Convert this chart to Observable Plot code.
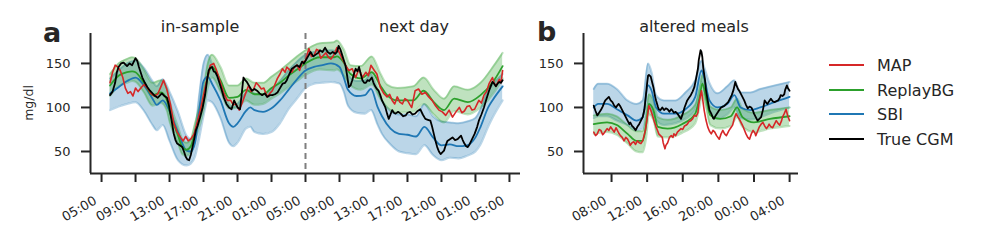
<!DOCTYPE html>
<html><head><meta charset="utf-8">
<script src="https://cdn.jsdelivr.net/npm/d3@7"></script>
<script src="https://cdn.jsdelivr.net/npm/@observablehq/plot@0.6"></script>
<style>
body{margin:0;background:#fff;}
#fig{position:relative;width:984px;height:244px;font-family:"DejaVu Sans",sans-serif;color:#262626;}
#fig svg{position:absolute;top:0;}
.pl text{font-size:13px;}
</style></head><body><div id="fig"></div>
<script>
// ---------- axis ticks ----------
const aTicks = [0,4,8,12,16,20,24,28,32,36,40,44,48];
const aTickLabels = ["05:00","09:00","13:00","17:00","21:00","01:00","05:00","09:00","13:00","17:00","21:00","01:00","05:00"];
const bTicks = [8,12,16,20,24,28];
const bTickLabels = ["08:00","12:00","16:00","20:00","00:00","04:00"];
const yTicks = [50,100,150];
const seriesNames = ["MAP","ReplayBG","SBI","True CGM"];
const seriesColors = ["#d62728","#2ca02c","#1f77b4","#000000"];

// ---------- panel a (hours since 05:00 of day 1) ----------
const sbiA_t  = [1,2,3,4,5,6,6.5,7.2,8,9, 10,10.5,11,11.5,12,12.5,13,14,15,15.5, 16,17,17.5,18,19,20,21,22,23,24, 25,26,27,28,28.5,29,30,31,31.7,32.5, 33,34,35,36,37,38,39,40,41,42, 43,44,44.6,45.5,46,47.2];
const sbiA_mean = [116,123,130,134,125,110,103,108,96,72, 51,50,60,97,130,135,127,108,82,78, 82,96,100,97,95,99,108,120,132,142, 146,148,150,146,134,120,113,114,121,100, 90,76,70,69,67,78,66,57,58,56, 57,66,78,100,108,124];
const sbiA_lo = [97,101,104,106,96,80,74,80,62,40, 34,36,44,65,90,108,106,88,60,56, 60,76,78,72,70,72,82,98,110,122, 127,128,129,127,118,102,94,93,97,80, 70,58,50,48,47,57,46,40,43,42, 45,50,58,78,88,108];
const sbiA_hi = [133,142,150,153,145,130,124,132,118,95, 68,64,74,115,150,160,150,128,104,100, 104,117,120,116,115,120,130,142,152,160, 163,164,165,163,152,138,130,131,138,120, 108,96,92,92,90,104,90,84,83,82, 84,88,98,120,126,138];

const rbgA_t = [1,2,3,3.6,4,5,6,7,7.7,8, 9,9.5,10,10.5,11,12,12.5,13,14,15, 16,17,18,19,20,21,22,23,24,25.7, 27.3,27.7,28.5,29.3,30.5,31.8,32.8,33.6,34.8,36.7, 37.9,39.1,40.3,41.5,43.1,44.6,46.2,47.2];
const rbgA_mean = [125,136,140,141,140,128,114,117,108,96, 68,55,52,56,72,108,135,146,131,111, 112,120,115,115,122,128,136,143,150,157, 157,158,151,138,133,140,125,114,108,108, 119,106,97,110,106,114,131,147];
const rbgA_lo = [113,124,128,130,129,117,102,105,96,84, 59,47,45,48,63,96,122,134,118,99, 100,108,103,104,110,116,123,130,137,143, 142,143,136,125,120,126,110,100,94,95, 104,92,83,96,92,100,117,133];
const rbgA_hi = [138,150,155,157,156,143,128,131,122,108, 78,64,60,64,82,122,150,160,146,125, 125,133,128,128,135,142,150,158,165,173, 174,176,166,148,147,158,139,126,122,124, 134,120,110,124,120,128,148,162];

const mapA_t = [1.0,1.3,1.6,1.9,2.2,2.5,2.8,3.1,3.4,3.7, 4.0,4.3,4.7,5.0,5.4,5.8,6.2,6.6,7.0,7.3, 7.7,8.1,8.5,8.9,9.3,9.6,9.9,10.2,10.5,10.9, 11.2,11.6,12.2,12.8,13.2,13.5,13.8,14.4,14.8,15.2, 15.5,15.8,16.2,16.5,16.8,17.3,17.6,17.9,18.2,18.5, 18.8,19.1,19.5,19.8,20.1,20.4,20.7,21.0,21.3,21.6, 21.8,22.1,22.4,22.7,23.0,23.3,23.6,
 24.0,24.4,24.7,25.0,25.3,25.5,25.8,26.1,26.4,26.7, 27.0,27.3,27.7,28.1,28.4,28.7,29.1,29.5,29.9,30.3, 30.7,31.1,31.4,31.7,32.1,32.4,32.8,33.2,33.6,33.9, 34.2,34.5,34.8,35.1,35.4,35.7,36.0,36.3,36.5,36.9, 37.3,37.7,38.1,38.5,38.9,39.3,39.7,40.1,40.5,40.9, 41.3,41.7,42.1,42.4,42.7,43.0,43.3,43.6,43.9,44.2, 44.4,44.7,45.0,45.3,45.6,46.0,46.2,46.4,46.8,47.0, 47.2];
const mapA_v = [128,140,148,146,142,134,122,116,118,113, 122,118,123,126,122,116,113,115,124,131, 120,104,82,72,66,62,67,62,64,70, 81,96,123,148,150,143,134,116,108,108, 103,104,97,104,112,125,118,121,128,125, 121,122,112,116,119,126,133,138,144,140, 146,143,140,146,148,142,151,
 153,167,158,159,166,165,156,159,162,157, 155,159,168,160,154,148,142,144,134,144, 134,140,136,148,142,138,123,116,112,115, 108,104,112,106,104,110,108,103,100,119, 121,115,117,112,108,102,97,95,91,97, 89,95,100,94,96,101,102,97,98,104, 108,105,114,118,127,134,128,124,132,128, 142];

const cgmA_t = [1.0,1.3,1.6,1.8,2.0,2.3,2.6,3.0,3.3,3.6, 3.8,4.0,4.2,4.4,4.8,5.1,5.4,5.7,6.0,6.3, 6.6,6.9,7.1,7.4,7.7,7.9,8.1,8.3,8.5,8.7, 8.9,9.2,9.5,9.7,9.9,10.1,10.3,10.5,10.7,10.9, 11.1,11.3,11.6,11.9,12.2,12.4,12.6,12.8,13.0,13.2, 13.4,13.6,13.8,14.1,14.4,14.7,15.0,15.3,15.6,15.8, 16.0,16.3,16.5,16.7,16.9,17.1,17.4,17.7,18.0,18.3, 18.6,18.9,19.2,19.5,19.8,20.1,20.4,20.7,21.0,21.3, 21.6,21.8,22.1,22.4,22.7,23.0,23.3,23.6,23.8,24.0,
 24.3,24.6,24.9,25.2,25.5,25.7,26.0,26.3,26.6,26.9, 27.2,27.5,27.7,27.9,28.1,28.3,28.5,28.7,28.9,29.1, 29.3,29.5,29.7,29.9,30.1,30.3,30.5,30.7,30.9,31.1, 31.3,31.5,31.8,32.0,32.2,32.4,32.6,32.8,33.0,33.2, 33.4,33.6,33.8,34.0,34.2,34.4,34.6,34.9,35.2,35.5, 35.8,36.0,36.3,36.6,36.9,37.2,37.5,37.8,38.1,38.4, 38.7,38.9,39.1,39.3,39.5,39.7,39.9,40.1,40.3,40.5, 40.7,41.0,41.3,41.6,41.9,42.1,42.3,42.5,42.7,42.9, 43.1,43.3,43.5,43.7,43.9,44.2,44.4,44.7,45.0,45.3, 45.6,45.8,46.0,46.2,46.4,46.6,46.8,47.0,47.2];
const cgmA_v = [114,118,128,140,146,150,151,147,150,148, 152,156,153,146,134,128,123,119,116,113, 111,114,116,113,111,104,93,82,70,63, 59,57,55,50,44,41,40,46,55,64, 74,79,89,100,115,130,142,145,146,141, 140,136,130,121,111,104,100,98,108,104, 100,98,116,134,131,129,124,119,121,119, 116,114,116,112,114,114,115,117,122,127, 128,131,138,144,146,148,146,152,150,153,
 158,163,158,160,162,165,163,168,163,161, 163,161,163,170,166,160,154,148,136,123, 125,131,138,144,141,146,138,131,128,128, 131,130,134,128,124,121,119,114,108,104, 100,93,87,92,97,94,93,95,93,90, 91,94,95,92,93,96,98,92,87,86, 85,78,70,62,55,50,47,49,51,57, 62,64,66,63,64,66,68,63,59,56, 55,58,62,66,70,78,85,92,100,110, 119,124,129,127,124,127,129,128,131];

// ---------- panel b (hours since 00:00 of the day) ----------
const sbiB_t = [6,6.5,7.5,8.6,9.8,10.8,11.5,12.1,12.5,13.0, 13.9,15.2,16.3,17.4,18.1,18.4,19.0,19.9,21.0,21.8, 22.5,23.6,24.7,26.3,28.0];
const sbiB_mean = [100,104,104,98,91,85,89,125,119,100, 93,93,98,112,142,134,108,100,104,114, 100,97,100,106,112];
const sbiB_lo = [88,90,90,85,80,74,76,104,96,86, 80,82,87,97,129,118,94,87,92,100, 88,86,89,95,100];
const sbiB_hi = [121,127,127,121,108,104,108,150,140,114, 108,108,117,131,153,146,128,116,124,131, 117,117,121,125,129];

const rbgB_t = [6,7.5,8.6,9.8,10.8,11.5,11.9,12.2,12.7,13.2, 14.3,15.9,17.4,17.9,18.2,18.6,19.1,20.2,21.4,22.1, 22.7,24.0,25.8,28.0];
const rbgB_mean = [81,83,80,70,62,62,81,104,97,78, 76,81,93,112,127,112,91,87,90,100, 89,83,87,90];
const rbgB_lo = [70,72,69,59,50,49,66,92,86,67, 66,71,82,101,116,101,80,76,79,89, 78,72,76,79];
const rbgB_hi = [91,93,90,80,73,73,92,115,108,89, 86,91,103,122,137,122,101,97,100,110, 99,94,97,100];

const mapB_t = [6.0,6.2,6.4,6.6,6.8,7.0,7.1,7.3,7.5,7.7, 7.9,8.1,8.3,8.5,8.6,8.8,9.0,9.2,9.4,9.6, 9.8,10.0,10.1,10.3,10.5,10.7,10.9,11.1,11.3,11.5, 11.6,11.8,11.9,12.1,12.2,12.4,12.6,12.8,13.0,13.2, 13.3,13.5,13.7,13.8,14.0,14.1,14.3,14.5,14.7,14.9, 15.0,15.2,15.4,15.6,15.8,16.0,16.2,16.4,16.5,16.7, 16.9,17.1,17.3,17.5,17.7,17.8,18.0,18.1,18.2,18.4, 18.6,18.8,19.0,19.2,19.4,19.6,19.8,20.1,20.3,20.5, 20.7,20.9,21.1,21.2,21.4,21.6,21.8,22.0,22.2,22.4, 22.6,22.7,22.9,23.1,23.3,23.5,23.7,23.9,24.1,24.2, 24.4,24.6,24.8,25.0,25.2,25.4,25.6,25.7,25.9,26.1, 26.3,26.5,26.7,26.9,27.1,27.2,27.4,27.6,27.8,28.0];
const mapB_v = [72,68,70,75,74,69,70,73,76,74, 78,75,72,77,75,71,68,66,62,66, 64,60,57,60,61,58,62,60,59,62, 66,74,81,95,102,97,91,84,78,73, 70,68,66,60,53,57,60,66,68,66, 70,68,72,74,76,75,79,80,81,84, 85,87,91,90,94,104,114,119,112,97, 86,78,73,70,74,72,68,64,70,74, 70,68,72,74,77,80,88,93,89,86, 82,80,75,70,66,64,70,74,71,68, 73,78,81,83,79,76,79,81,78,77, 81,85,82,80,85,89,93,98,90,85];

const cgmB_t = [6.0,6.2,6.4,6.6,6.8,7.0,7.2,7.3,7.5,7.7, 7.9,8.1,8.3,8.5,8.7,8.8,9.0,9.2,9.4,9.6, 9.8,10.0,10.1,10.3,10.5,10.7,10.9,11.1,11.3,11.5, 11.7,11.8,12.0,12.1,12.2,12.4,12.6,12.7,12.9,13.0, 13.2,13.3,13.5,13.7,13.9,14.1,14.3,14.5,14.7,14.8, 15.0,15.2,15.4,15.6,15.8,16.0,16.2,16.5,16.7,16.9, 17.1,17.3,17.5,17.7,17.8,18.0,18.1,18.2,18.3,18.5, 18.6,18.8,19.0,19.2,19.4,19.5,19.7,19.9,20.1,20.3, 20.5,20.7,20.9,21.1,21.3,21.5,21.7,21.9,22.0,22.2, 22.4,22.5,22.7,22.9,23.1,23.3,23.5,23.7,23.9,24.0, 24.2,24.4,24.6,24.8,25.0,25.2,25.4,25.5,25.7,25.9, 26.1,26.3,26.5,26.7,26.9,27.0,27.2,27.4,27.5,27.7, 27.8,28.0];
const cgmB_v = [102,96,91,94,97,101,106,108,110,112, 108,106,102,100,103,104,101,97,93,89, 85,81,83,79,77,74,78,81,85,89, 98,108,128,136,137,135,127,123,112,108, 101,98,97,100,97,99,98,95,98,97, 94,95,93,90,87,93,100,108,111,114, 118,123,133,144,154,165,163,157,145,131, 120,108,97,93,88,87,91,94,97,100, 101,102,104,106,110,114,120,129,126,121, 118,116,112,108,103,99,101,100,96,93, 89,85,87,89,97,108,105,104,107,110, 107,106,107,108,111,114,113,115,120,125, 122,119];

// ---------- build ----------
const [RED, GREEN, BLUE, BLACK] = seriesColors;
const band = (t, mean, lo, hi) => t.map((x, i) => ({t: x, mean: mean[i], lo: lo[i], hi: hi[i]}));
const trace = (t, v) => t.map((x, i) => ({t: x, v: v[i]}));
const INK = "#262626";

function panel({width, ml, mr, xdom, ticks, labels, sbi, rbg, map, cgm, extra}) {
  const lab = new Map(ticks.map((d, i) => [d, labels[i]]));
  const bandMarks = (data, color) => [
    Plot.areaY(data, {x: "t", y1: "lo", y2: "hi", fill: color, fillOpacity: 0.3, curve: "monotone-x"}),
    Plot.lineY(data, {x: "t", y: "lo", stroke: color, strokeOpacity: 0.3, strokeWidth: 2, curve: "monotone-x"}),
    Plot.lineY(data, {x: "t", y: "hi", stroke: color, strokeOpacity: 0.3, strokeWidth: 2, curve: "monotone-x"})
  ];
  return Plot.plot({
    className: "pl",
    width, height: 244,
    marginLeft: ml, marginRight: mr, marginTop: 33, marginBottom: 71,
    x: {domain: xdom, label: null},
    y: {domain: [25, 184], label: null},
    style: {fontFamily: '"DejaVu Sans", sans-serif', fontSize: "13px", color: INK, background: "transparent", overflow: "visible"},
    marks: [
      ...bandMarks(sbi, BLUE),
      ...bandMarks(rbg, GREEN),
      ...(extra || []),
      Plot.lineY(sbi, {x: "t", y: "mean", stroke: BLUE, strokeWidth: 1.8, curve: "monotone-x"}),
      Plot.lineY(rbg, {x: "t", y: "mean", stroke: GREEN, strokeWidth: 1.8, curve: "monotone-x"}),
      Plot.lineY(map, {x: "t", y: "v", stroke: RED, strokeWidth: 1.6}),
      Plot.lineY(cgm, {x: "t", y: "v", stroke: BLACK, strokeWidth: 1.8}),
      Plot.ruleX([xdom[0]], {stroke: INK, strokeWidth: 2}),
      Plot.ruleY([25], {stroke: INK, strokeWidth: 2}),
      Plot.axisY(yTicks, {tickSize: 9, tickPadding: 11, strokeWidth: 2, stroke: INK, label: null}),
      Plot.axisX(ticks, {tickSize: 9, tickFormat: () => "", strokeWidth: 2, stroke: INK, label: null}),
      Plot.axisX(ticks, {tickSize: 0, tickPadding: 26, tickRotate: -30, dx: -6, tickFormat: d => lab.get(d), label: null})
    ]
  });
}

const fig = document.getElementById("fig");

const pa = panel({
  width: 530, ml: 90, mr: 10, xdom: [-1.3, 49.3], ticks: aTicks, labels: aTickLabels,
  sbi: band(sbiA_t, sbiA_mean, sbiA_lo, sbiA_hi),
  rbg: band(rbgA_t, rbgA_mean, rbgA_lo, rbgA_hi),
  map: trace(mapA_t, mapA_v), cgm: trace(cgmA_t, cgmA_v),
  extra: [Plot.ruleX([24], {stroke: "#7f7f7f", strokeWidth: 2, strokeDasharray: "6,4"})]
});
pa.style.left = "0px";
fig.appendChild(pa);

const pb = panel({
  width: 280, ml: 53, mr: 12, xdom: [4.85, 29.0], ticks: bTicks, labels: bTickLabels,
  sbi: band(sbiB_t, sbiB_mean, sbiB_lo, sbiB_hi),
  rbg: band(rbgB_t, rbgB_mean, rbgB_lo, rbgB_hi),
  map: trace(mapB_t, mapB_v), cgm: trace(cgmB_t, cgmB_v)
});
pb.style.left = "530px";
fig.appendChild(pb);

// ---------- annotations and legend ----------
const NS = "http://www.w3.org/2000/svg";
const ov = document.createElementNS(NS, "svg");
ov.setAttribute("width", 984); ov.setAttribute("height", 244);
ov.style.left = "0px"; ov.style.pointerEvents = "none";
ov.setAttribute("font-family", '"DejaVu Sans", sans-serif');
function txt(x, y, s, attrs) {
  const t = document.createElementNS(NS, "text");
  t.setAttribute("x", x); t.setAttribute("y", y); t.setAttribute("fill", INK);
  for (const k in attrs) t.setAttribute(k, attrs[k]);
  t.textContent = s; ov.appendChild(t); return t;
}
txt(43, 42, "a", {"font-size": 27, "font-weight": "bold"});
txt(537, 41, "b", {"font-size": 27, "font-weight": "bold"});
txt(200, 32, "in-sample", {"font-size": 16, "text-anchor": "middle"});
txt(414, 32, "next day", {"font-size": 16, "text-anchor": "middle"});
txt(694, 32, "altered meals", {"font-size": 16, "text-anchor": "middle"});
txt(0, 0, "mg/dl", {"font-size": 12.5, "text-anchor": "middle", transform: "translate(33,103) rotate(-90)"});
const legY = [65, 90, 114, 139];
seriesNames.forEach((name, i) => {
  const l = document.createElementNS(NS, "line");
  l.setAttribute("x1", 829); l.setAttribute("x2", 864);
  l.setAttribute("y1", legY[i]); l.setAttribute("y2", legY[i]);
  l.setAttribute("stroke", seriesColors[i]); l.setAttribute("stroke-width", 2);
  ov.appendChild(l);
  txt(877, legY[i], name, {"font-size": 16, "dominant-baseline": "central"});
});
fig.appendChild(ov);
</script></body></html>
